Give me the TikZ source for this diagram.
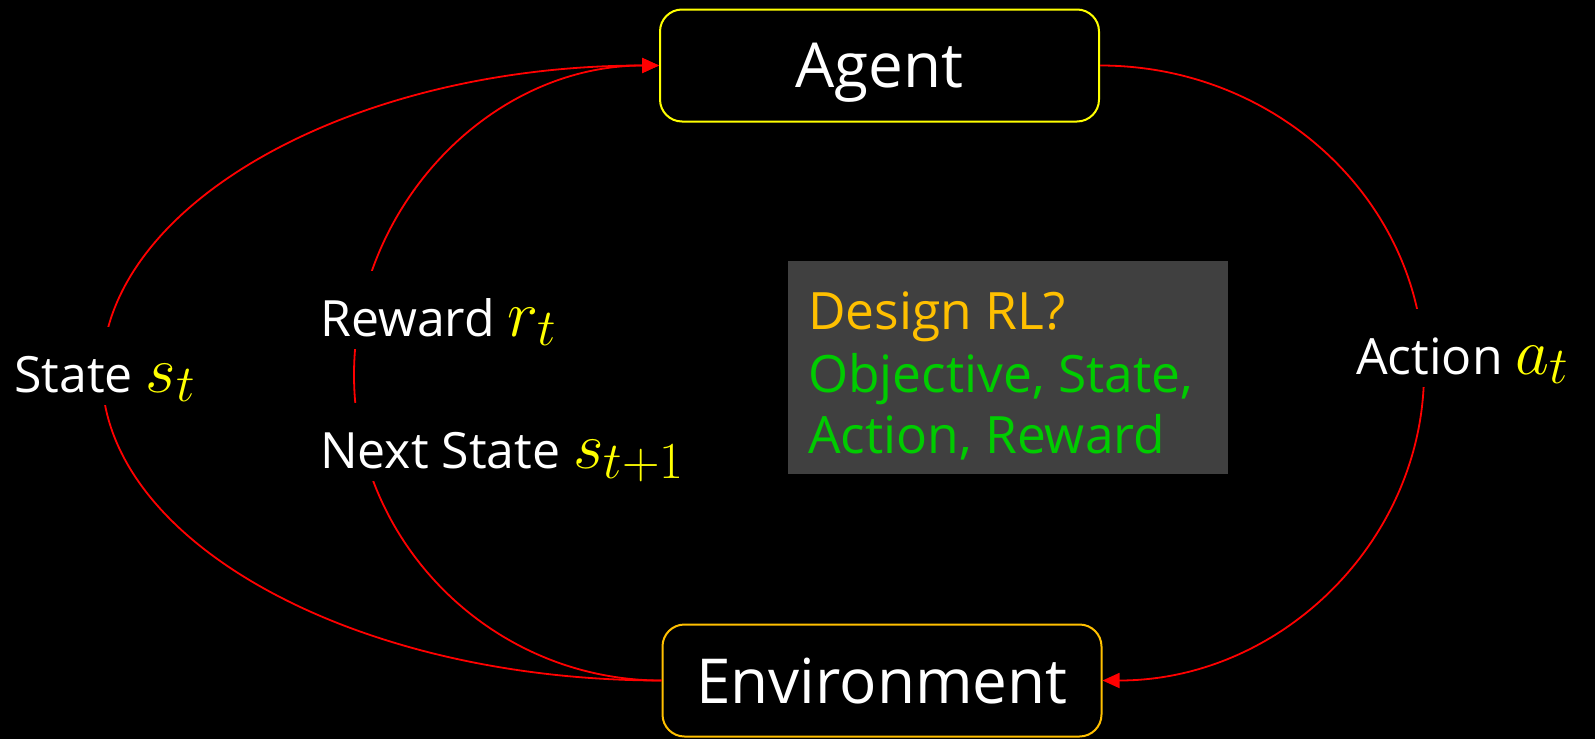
\documentclass[tikz,border=0pt]{standalone}
\usepackage{fix-cm}
\usepackage{fontspec}
\setmainfont{Open Sans}
\usetikzlibrary{arrows.meta}

\definecolor{wirered}{RGB}{255,0,0}
\definecolor{agentedge}{RGB}{255,255,0}
\definecolor{envedge}{RGB}{255,192,0}
\definecolor{panelgray}{RGB}{64,64,64}
\definecolor{qorange}{RGB}{255,192,0}
\definecolor{lgreen}{RGB}{0,204,0}
\definecolor{symyellow}{RGB}{255,255,0}

% large symbols with generous subscripts
\DeclareMathSizes{66}{66}{52}{40}
\newcommand{\sym}[1]{{\fontsize{66}{72}\selectfont\textcolor{symyellow}{$#1$}}}

\begin{document}
\begin{tikzpicture}[x=1pt,y=-1pt,
  box/.style={draw, line width=2pt, rounded corners=22pt, minimum width=439pt,
    minimum height=112pt, text=white, inner sep=0pt, text depth=0pt,
    font=\fontsize{62}{70}\selectfont},
  wire/.style={draw=wirered, line width=1.8pt},
  tip/.style={-{Triangle[length=17pt,width=15pt]}},
  lbl/.style={text=white, fill=black, anchor=base west, inner xsep=4pt, inner ysep=0pt,
    text height=65pt, text depth=13pt, font=\fontsize{50}{60}\selectfont},
  paneltext/.style={anchor=base west, inner sep=0pt, font=\fontsize{51.5}{60}\selectfont}]

% canvas
\fill[black] (0,0) rectangle (1595,739);
\useasboundingbox (0,0) rectangle (1595,739);

% the two blocks
\node[box, draw=agentedge] (agent) at (879.5,65.5) {Agent};
\node[box, draw=envedge] (env) at (882,680.5) {Environment};

% turning points of the loops
\coordinate (stc) at (102,373);
\coordinate (rwc) at (354,375);
\coordinate (acc) at (1424,372);

% outer loop: state back to the agent
\draw[wire, tip] (env.west) .. controls +(-308,0) and +(0,168) .. (stc)
  .. controls +(0,-168) and +(-308,0) .. (agent.west);
% inner loop: reward and next state back to the agent
\draw[wire, tip] (env.west) .. controls +(-169,0) and +(0,168) .. (rwc)
  .. controls +(0,-168) and +(-169,0) .. (agent.west);
% right loop: action sent to the environment
\draw[wire, tip] (agent.east) .. controls +(179,0) and +(0,-168) .. (acc)
  .. controls +(0,168) and +(179,0) .. (env.east);

% loop labels
\node[lbl] (lstate) at (10,392) {State \sym{s_t}};
\node[lbl] (lreward) at (316,336) {Reward \sym{r_t}};
\node[lbl] (lnext) at (316,468) {Next State \sym{s_{t+1}}};
\node[lbl] (laction) at (1352,374) {Action \sym{a_t}};

% design panel
\node[fill=panelgray, minimum width=440pt, minimum height=213pt, inner sep=0pt,
  anchor=north west] (panel) at (788,261) {};
\node[paneltext, text=qorange] (q1) at (808,329) {Design RL?};
\node[paneltext, text=lgreen] (q2) at (808,392) {Objective, State,};
\node[paneltext, text=lgreen] (q3) at (808,453) {Action, Reward};
\end{tikzpicture}
\end{document}
